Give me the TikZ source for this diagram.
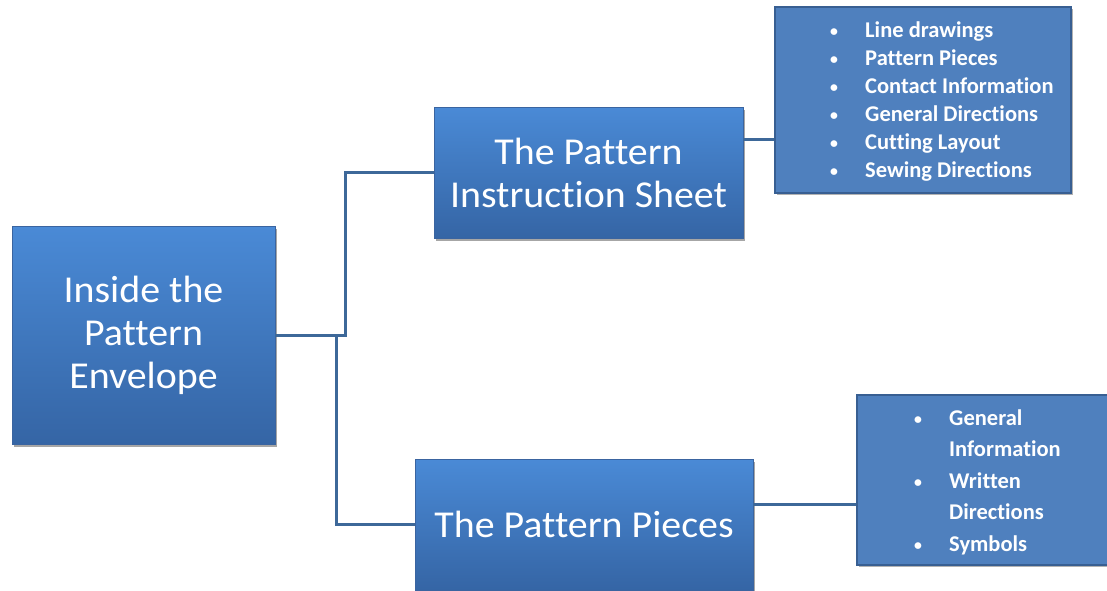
\documentclass[tikz,border=0pt]{standalone}
\usepackage{fontspec}
\setmainfont{Carlito}[Ligatures=NoCommon]
\newfontfamily\bigfont{Carlito}[Ligatures=NoCommon, FakeStretch=1.05]
\usetikzlibrary{calc,shadows}
\definecolor{boxtop}{HTML}{4A8AD6}
\definecolor{boxbot}{HTML}{3565A5}
\definecolor{boxedge}{HTML}{3A64A0}
\definecolor{listfill}{HTML}{4F80BE}
\definecolor{listedge}{HTML}{385F92}
\definecolor{conn}{HTML}{3D6899}
\tikzset{
  mainbox/.style={rectangle, draw=boxedge, line width=0.8pt, top color=boxtop, bottom color=boxbot,
    drop shadow={shadow xshift=2pt, shadow yshift=-3pt, fill=black, opacity=.35},
    text=white, font=\bigfont\fontsize{38}{43}\selectfont, align=center, inner sep=0pt},
  listbox/.style={rectangle, draw=listedge, line width=2.5pt, fill=listfill,
    drop shadow={shadow xshift=1.5pt, shadow yshift=-2pt, fill=black, opacity=.3}, inner sep=0pt},
  listtext/.style={text=white, font=\bfseries\fontsize{22.5}{28}\selectfont, align=left, inner sep=0pt, anchor=west},
  conn/.style={draw=conn, line width=3pt}
}
\newcommand{\bul}{\makebox[35pt][l]{\raisebox{1pt}{\scalebox{0.7}{•}}}}
\newcommand{\nobul}{\makebox[35pt][l]{}}
\begin{document}
\begin{tikzpicture}[x=1pt,y=-1pt]
\useasboundingbox (0,0) rectangle (1107,590);
\node[mainbox, minimum width=263pt, minimum height=218pt] (root) at (143.5,335) {Inside the\\Pattern\\Envelope};
\node[mainbox, minimum width=309pt, minimum height=131pt] (top) at (588.5,172.5) {The Pattern\\Instruction Sheet};
\node[mainbox, minimum width=338pt, minimum height=131pt] (bot) at (584,524.5) {The Pattern Pieces};
\node[listbox, minimum width=296pt, minimum height=186pt] (list1) at (923,100) {};
\node[listbox, minimum width=260pt, minimum height=170pt] (list2) at (987,480) {};
\node[listtext] (items1) at (830,102) {\bul Line drawings\\\bul Pattern Pieces\\\bul Contact Information\\\bul General Directions\\\bul Cutting Layout\\\bul Sewing Directions};
\node[listtext, font=\bfseries\fontsize{22.5}{31.5}\selectfont] (items2) at (914,482) {\bul General\\\nobul Information\\\bul Written\\\nobul Directions\\\bul Symbols};
\draw[conn] (root.east) -- ++(70,0) |- (top.west);
\draw[conn] (root.east) -- ++(61,0) |- (bot.west);
\draw[conn] ($(top.north east)!0.25!(top.south east)$) coordinate (c1) -- (c1 -| list1.west);
\draw[conn] ($(bot.north east)!0.35!(bot.south east)$) coordinate (c2) -- (c2 -| list2.west);
\end{tikzpicture}
\end{document}
